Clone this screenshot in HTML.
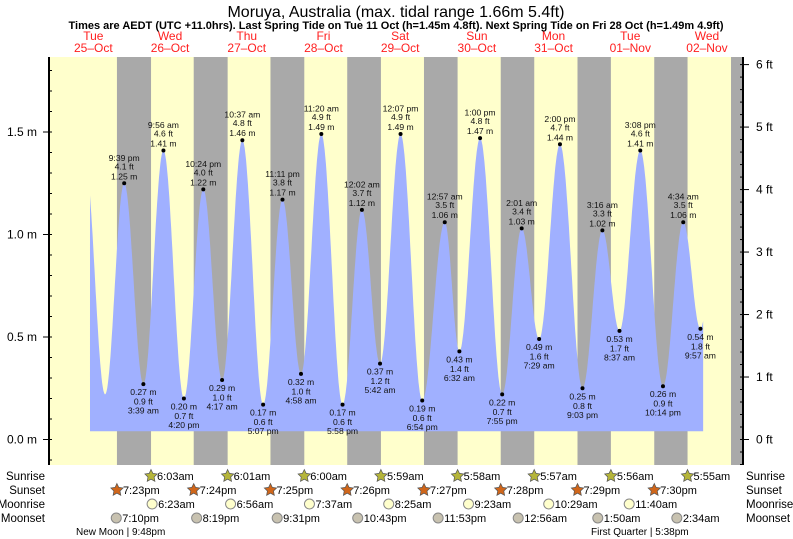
<!DOCTYPE html>
<html><head><meta charset="utf-8"><style>
body{margin:0;background:#fff}
svg{display:block;font-family:"Liberation Sans",sans-serif}
</style></head><body>
<svg id="chart" width="793" height="539" viewBox="0 0 793 539">
<text x="396" y="17" font-size="16" text-anchor="middle">Moruya, Australia (max. tidal range 1.66m 5.4ft)</text>
<text x="396" y="29" font-size="11" font-weight="bold" text-anchor="middle">Times are AEDT (UTC +11.0hrs). Last Spring Tide on Tue 11 Oct (h=1.45m 4.8ft). Next Spring Tide on Fri 28 Oct (h=1.49m 4.9ft)</text>
<g id="bg"></g><g id="tide"></g><g id="axes"></g><g id="labels"></g><g id="astro"></g>
</svg>
<script>
const dayNames=["Tue","Wed","Thu","Fri","Sat","Sun","Mon","Tue","Wed"];
const dayDates=["25–Oct","26–Oct","27–Oct","28–Oct","29–Oct","30–Oct","31–Oct","01–Nov","02–Nov"];
// extremes: hours since Tue 25 00:00, height m
const tideHours=[9.25,15.67,21.65,27.65,33.93,40.33,46.4,52.28,58.62,65.12,71.18,76.97,83.33,89.97,96.03,101.7,108.12,114.9,121.95,126.53,133.0,139.92,146.02,151.48,158.0,165.05,171.27,176.62,183.13,190.23,196.57,201.95,208.2];
const tideHeights=[1.38,0.22,1.25,0.27,1.41,0.20,1.22,0.29,1.46,0.17,1.17,0.32,1.49,0.17,1.12,0.37,1.49,0.19,1.06,0.43,1.47,0.22,1.03,0.49,1.44,0.25,1.02,0.53,1.41,0.26,1.06,0.54,1.40];
const tideLabels=[null,null,"9:39 pm",  "3:39 am","9:56 am","4:20 pm","10:24 pm","4:17 am","10:37 am","5:07 pm","11:11 pm","4:58 am","11:20 am","5:58 pm","12:02 am","5:42 am","12:07 pm","6:54 pm","12:57 am","6:32 am","1:00 pm","7:55 pm","2:01 am","7:29 am","2:00 pm","9:03 pm","3:16 am","8:37 am","3:08 pm","10:14 pm","4:34 am","9:57 am",null];
const sunriseTimes=["6:03am","6:01am","6:00am","5:59am","5:58am","5:57am","5:56am","5:55am"];
const sunsetTimes=["7:23pm","7:24pm","7:25pm","7:26pm","7:27pm","7:28pm","7:29pm","7:30pm","7:31pm"];
const moonriseTimes=["6:23am","6:56am","7:37am","8:25am","9:23am","10:29am","11:40am"];
const moonriseDays=[1,2,3,4,5,6,7];
const moonsetTimes=["7:10pm","8:19pm","9:31pm","10:43pm","11:53pm","12:56am","1:50am","2:34am"];
const moonsetDays=[0,1,2,3,4,6,7,8];
const mTicks=[0,0.5,1.0,1.5];
const ftTicks=[0,1,2,3,4,5,6];

const NS="http://www.w3.org/2000/svg";
const X0=55,PXH=3.196,Y0=439.5,PXM=205,L=49,R=743,T=57,B=465;
const xs=h=>X0+h*PXH, ym=m=>Y0-m*PXM;
function el(tag,at,parent,txt){const e=document.createElementNS(NS,tag);for(const k in at)e.setAttribute(k,at[k]);if(txt!=null)e.textContent=txt;document.getElementById(parent).appendChild(e);return e;}
function parseT(s){const m=s.match(/(\d+):(\d+)\s*(am|pm)/);let h=+m[1]%12;if(m[3]=="pm")h+=12;return h+ +m[2]/60;}

let r=el("rect",{x:L,y:T,width:R-L,height:B-T,fill:"#ffffcc"},"bg");

for(let d=0;d<9;d++){
  const s=d*24+parseT(sunsetTimes[d]);
  const e=d<8?(d+1)*24+parseT(sunriseTimes[d]):1e9;
  const x1=xs(s),x2=Math.min(xs(e),R);
  const n=el("rect",{x:x1,y:T,width:x2-x1,height:B-T,fill:"#a9a9a9"},"bg");
  
  const c=xs(d*24+12);
  const t1=el("text",{x:c,y:40,"font-size":12,fill:"#ff2020","text-anchor":"middle"},"bg",dayNames[d]);
  
  const t2=el("text",{x:c,y:52,"font-size":12,fill:"#ff2020","text-anchor":"middle"},"bg",dayDates[d]);
  
}
function hAt(h){for(let i=0;i<tideHours.length-1;i++){if(h>=tideHours[i]&&h<=tideHours[i+1]){const f=(h-tideHours[i])/(tideHours[i+1]-tideHours[i]);return tideHeights[i]+(tideHeights[i+1]-tideHeights[i])*(1-Math.cos(Math.PI*f))/2;}}return tideHeights[0];}
const hs=10.95,he=202.8,base=ym(0.04);
let d=`M${xs(hs)},${base}`;
for(let h=hs;h<=he;h+=0.2)d+=`L${xs(h).toFixed(1)},${ym(hAt(h)).toFixed(1)}`;
d+=`L${xs(he)},${ym(hAt(he))}L${xs(he)},${base}Z`;
const p=el("path",{d,fill:"#a0b0ff"},"tide");

for(let i=0;i<tideHours.length;i++){
  if(!tideLabels[i])continue;
  const x=xs(tideHours[i]),y=ym(tideHeights[i]),m=tideHeights[i];
  const hi=i>0&&m>tideHeights[i-1];
  const dot=el("circle",{cx:x,cy:y,r:2,fill:"#000"},"labels");
  
  const ft=(m/0.3048).toFixed(1)+" ft",mm=m.toFixed(2)+" m";
  const lines=hi?[tideLabels[i],ft,mm]:[mm,ft,tideLabels[i]];
  const offs=hi?[-22.5,-14,-4]:[11,20.5,29.5];
  lines.forEach((s,k)=>{const t=el("text",{x:x,y:y+offs[k],"font-size":8.6,"text-anchor":"middle",fill:"#111"},"labels",s);
    });
}
let a=el("line",{x1:L,y1:T,x2:L,y2:B,stroke:"#000","stroke-width":2},"axes");

a=el("line",{x1:R,y1:T,x2:R,y2:B,stroke:"#000","stroke-width":2},"axes");

for(let v=-0.1;v<=1.85;v+=0.1){const y=ym(v);if(y<T||y>B)continue;el("line",{x1:L,y1:y,x2:L+3,y2:y,stroke:"#000"},"axes");}
mTicks.forEach(v=>{const y=ym(v);el("line",{x1:L-6,y1:y,x2:L,y2:y,stroke:"#000"},"axes");
  const t=el("text",{x:37,y:y+4,"font-size":12,"text-anchor":"end"},"axes",v.toFixed(1)+" m");
  });
for(let v=-0.4;v<=6.2;v+=0.2){const y=ym(v*0.3048);if(y<T||y>B)continue;el("line",{x1:R-3,y1:y,x2:R,y2:y,stroke:"#000"},"axes");}
ftTicks.forEach(v=>{const y=ym(v*0.3048);el("line",{x1:R,y1:y,x2:R+6,y2:y,stroke:"#000"},"axes");
  const t=el("text",{x:756,y:y+4,"font-size":12},"axes",v+" ft");
  });
const rows=[["Sunrise",476],["Sunset",490],["Moonrise",504],["Moonset",518]];
rows.forEach(([n,y])=>{
  let t=el("text",{x:45,y:y+4,"font-size":11.5,"text-anchor":"end"},"astro",n);
  
  t=el("text",{x:746,y:y+4,"font-size":11.5},"astro",n);
  
});
function star(cx,cy,fill){let pts="";for(let k=0;k<10;k++){const rr=k%2?3.2:6.5,a=-Math.PI/2+k*Math.PI/5;pts+=(cx+rr*Math.cos(a)).toFixed(1)+","+(cy+rr*Math.sin(a)).toFixed(1)+" ";}
  return el("polygon",{points:pts,fill,stroke:"#555","stroke-width":0.7},"astro");}
function item(x,y,txt,kind){
  let ic;
  if(kind=="sr")ic=star(x,y,"#b5b53a");else if(kind=="ss")ic=star(x,y,"#d0661a");
  else ic=el("circle",{cx:x,cy:y,r:5,fill:kind=="mr"?"#ffffcc":"#c8c2b0",stroke:"#888"},"astro");
  
  const t=el("text",{x:x+6,y:y+4,"font-size":11},"astro",txt);
  
}
sunriseTimes.forEach((s,i)=>item(xs((i+1)*24+parseT(s)),476,s,"sr"));
sunsetTimes.slice(0,8).forEach((s,i)=>item(xs(i*24+parseT(s)),490,s,"ss"));
moonriseTimes.forEach((s,i)=>item(xs(moonriseDays[i]*24+parseT(s)),504,s,"mr"));
moonsetTimes.forEach((s,i)=>item(xs(moonsetDays[i]*24+parseT(s)),518,s,"ms"));
let t=el("text",{x:76,y:535,"font-size":10},"astro","New Moon | 9:48pm");

t=el("text",{x:591,y:535,"font-size":10},"astro","First Quarter | 5:38pm");

</script>
</body></html>
